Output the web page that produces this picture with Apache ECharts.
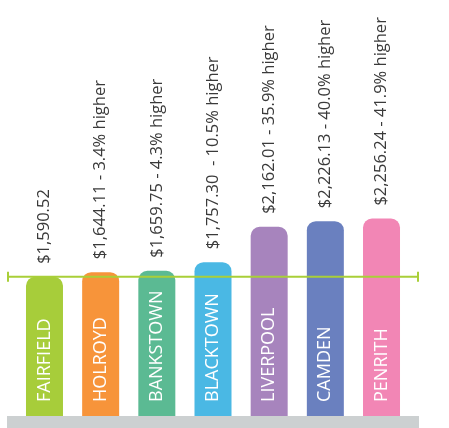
<!DOCTYPE html>
<html>
<head>
<meta charset="utf-8">
<script src="https://cdn.jsdelivr.net/npm/echarts@6/dist/echarts.min.js"></script>
<style>html,body{margin:0;padding:0;background:#fff}#c{width:449px;height:428px}</style>
</head>
<body>
<div id="c"></div>
<script>
const categories = ['FAIRFIELD','HOLROYD','BANKSTOWN','BLACKTOWN','LIVERPOOL','CAMDEN','PENRITH'];
const values = [1590.52, 1644.11, 1659.75, 1757.30, 2162.01, 2226.13, 2256.24];
const valueLabels = ['$1,590.52','$1,644.11 - 3.4% higher','$1,659.75 - 4.3% higher','$1,757.30  - 10.5% higher','$2,162.01 - 35.9% higher','$2,226.13 - 40.0% higher','$2,256.24 - 41.9% higher'];
const colors = ['#a7cd3a','#f7943a','#5bba93','#4ab8e4','#a784bd','#6a80bf','#f286b5'];
const baselineValue = 1590.52;

const chart = echarts.init(document.getElementById('c'), null, {renderer:'canvas'});
const font = '"Open Sans", sans-serif';
chart.setOption({
  animation:false,
  grid:{left:16.4, right:39.4, top:66, bottom:12},
  xAxis:{type:'category', data:categories, show:false},
  yAxis:{type:'value', min:0, max:4000, show:false},
  series:[
    {
      type:'bar', barWidth:37,
      data: values.map((v,i)=>({value:v, itemStyle:{color:colors[i], borderRadius:[9,9,0,0]}})),
      label:{show:true, position:'top', distance:13, rotate:90, align:'left', verticalAlign:'middle',
        fontFamily:font, fontWeight:400, fontSize:16.5, color:'#3a3a3a',
        formatter:p=>valueLabels[p.dataIndex]},
      z:2
    },
    {
      type:'bar', barWidth:37, barGap:'-100%', silent:true,
      data: values,
      itemStyle:{color:'rgba(0,0,0,0)'},
      label:{show:true, position:'insideBottom', distance:14, rotate:90, align:'left', verticalAlign:'middle',
        fontFamily:font, fontWeight:400, fontSize:18, color:'#fff',
        formatter:p=>categories[p.dataIndex]},
      z:3
    }
  ]
});
const yLine = chart.convertToPixel({yAxisIndex:0}, baselineValue);
const yBase = chart.convertToPixel({yAxisIndex:0}, 0);
chart.setOption({
  graphic:[
    {type:'rect', shape:{x:7, y:yBase, width:412, height:428-yBase}, style:{fill:'#ccd0d1'}, z:1},
    {type:'line', shape:{x1:8, y1:yLine, x2:418, y2:yLine}, style:{stroke:'#a9cf38', lineWidth:2}, z:10},
    {type:'line', shape:{x1:8, y1:yLine-5, x2:8, y2:yLine+5}, style:{stroke:'#a9cf38', lineWidth:2}, z:10},
    {type:'line', shape:{x1:418, y1:yLine-5, x2:418, y2:yLine+5}, style:{stroke:'#a9cf38', lineWidth:2}, z:10}
  ]
});
</script>
</body>
</html>
